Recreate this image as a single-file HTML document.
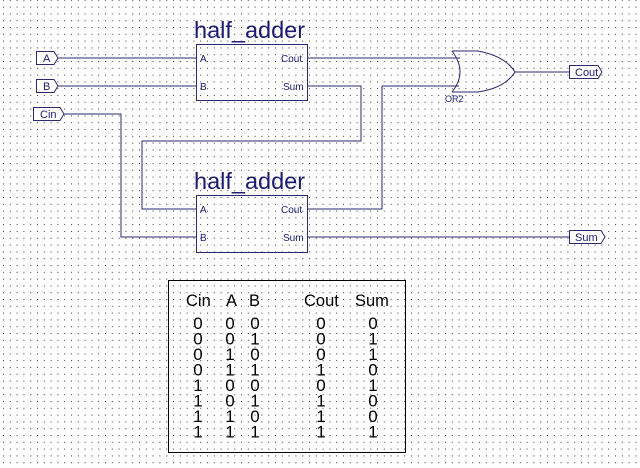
<!DOCTYPE html>
<html><head><meta charset="utf-8"><style>
body{margin:0;background:#fff}
svg{display:block}
text{font-family:"Liberation Sans",sans-serif}
</style></head><body>
<svg width="640" height="468" viewBox="0 0 640 468" xmlns="http://www.w3.org/2000/svg">
<defs><pattern id="g" x="3" y="6.6" width="6.8" height="6.8" patternUnits="userSpaceOnUse"><rect x="0" y="0" width="1" height="1" fill="#333"/></pattern></defs>
<rect width="640" height="468" fill="url(#g)"/>
<g fill="none" stroke="#2a2a70" stroke-width="1">
<path d="M58 58H196M58 86H196M64 114H121V237H196"/>
<path d="M307 86H361V141H142V209H196"/>
<path d="M307 58H460M382 86H459M307 209H382V86M515 72H569M307 237H569"/>
<rect x="196.5" y="44.5" width="111" height="56" fill="#fff" fill-opacity="0"/>
<rect x="196.5" y="195.5" width="111" height="57" fill-opacity="0"/>
<path d="M452 51Q468 72 452 92M452 51H478Q505 56 515 72Q505 88 478 92H452" fill="#fff" fill-opacity="0"/>
<path d="M36.5 51.5H54L58 58L54 64.5H36.5Z" fill="#fff"/>
<path d="M36.5 79.5H54L58 86L54 92.5H36.5Z" fill="#fff"/>
<path d="M33.5 107.5H60L64 114L60 120.5H33.5Z" fill="#fff"/>
<path d="M569.5 65.5H598L602 72L598 78.5H569.5Z" fill="#fff"/>
<path d="M569.5 230.5H601L605 237L601 243.5H569.5Z" fill="#fff"/>
</g>
<g fill="#1a1a6e">
<text x="194" y="38" font-size="23.5">half_adder</text>
<text x="194" y="189" font-size="23.5">half_adder</text>
<g font-size="10"><text x="200" y="62">A</text><text x="200" y="90">B</text><text x="281" y="62">Cout</text><text x="283" y="90">Sum</text>
<text x="200" y="213">A</text><text x="200" y="241">B</text><text x="281" y="213">Cout</text><text x="283" y="241">Sum</text>
<text x="445" y="102" font-size="9">OR2</text></g>
<g font-size="11"><text x="43" y="62">A</text><text x="43" y="90">B</text><text x="40" y="118">Cin</text><text x="575" y="76">Cout</text><text x="575" y="241">Sum</text></g>
</g>
<rect x="168.5" y="280.5" width="237" height="172" fill="none" stroke="#000" stroke-width="1"/>
<g font-size="16.5" fill="#000">
<text x="186" y="306">Cin</text><text x="226" y="306">A</text><text x="249" y="306">B</text><text x="304" y="306">Cout</text><text x="355" y="306">Sum</text>
<g text-anchor="middle" font-size="17">
<text x="198" y="329">0</text><text x="230" y="329">0</text><text x="255" y="329">0</text><text x="321" y="329">0</text><text x="373" y="329">0</text>
<text x="198" y="344.5">0</text><text x="230" y="344.5">0</text><text x="255" y="344.5">1</text><text x="321" y="344.5">0</text><text x="373" y="344.5">1</text>
<text x="198" y="360">0</text><text x="230" y="360">1</text><text x="255" y="360">0</text><text x="321" y="360">0</text><text x="373" y="360">1</text>
<text x="198" y="375.5">0</text><text x="230" y="375.5">1</text><text x="255" y="375.5">1</text><text x="321" y="375.5">1</text><text x="373" y="375.5">0</text>
<text x="198" y="391">1</text><text x="230" y="391">0</text><text x="255" y="391">0</text><text x="321" y="391">0</text><text x="373" y="391">1</text>
<text x="198" y="406.5">1</text><text x="230" y="406.5">0</text><text x="255" y="406.5">1</text><text x="321" y="406.5">1</text><text x="373" y="406.5">0</text>
<text x="198" y="422">1</text><text x="230" y="422">1</text><text x="255" y="422">0</text><text x="321" y="422">1</text><text x="373" y="422">0</text>
<text x="198" y="437.5">1</text><text x="230" y="437.5">1</text><text x="255" y="437.5">1</text><text x="321" y="437.5">1</text><text x="373" y="437.5">1</text>
</g></g>
</svg>
</body></html>
